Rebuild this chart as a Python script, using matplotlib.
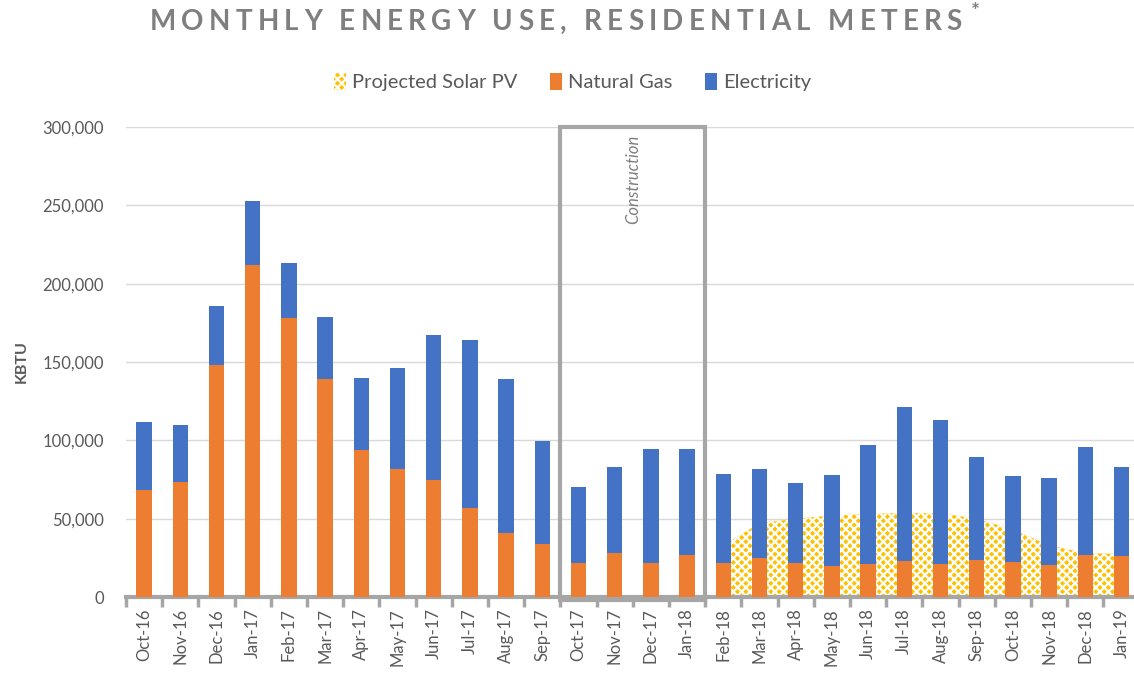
import matplotlib
matplotlib.use("Agg")
import matplotlib.pyplot as plt
from matplotlib.patches import Patch, Rectangle
import numpy as np

plt.rcParams['font.family'] = ['Lato', 'DejaVu Sans']
plt.rcParams['hatch.linewidth'] = 1.6

months = ['Oct-16', 'Nov-16', 'Dec-16', 'Jan-17', 'Feb-17', 'Mar-17', 'Apr-17',
          'May-17', 'Jun-17', 'Jul-17', 'Aug-17', 'Sep-17', 'Oct-17', 'Nov-17',
          'Dec-17', 'Jan-18', 'Feb-18', 'Mar-18', 'Apr-18', 'May-18', 'Jun-18',
          'Jul-18', 'Aug-18', 'Sep-18', 'Oct-18', 'Nov-18', 'Dec-18', 'Jan-19']

gas = [68000, 73500, 148000, 212000, 178000, 139000, 94000, 82000, 75000, 57000,
       41000, 34000, 22000, 28000, 22000, 26500, 22000, 25000, 22000, 19500,
       21000, 23000, 21000, 23500, 22500, 20500, 27000, 26000]

total = [112000, 110000, 186000, 253000, 213000, 179000, 140000, 146000, 167000,
         164000, 139000, 99500, 70000, 83000, 94500, 94500, 78500, 81500, 73000,
         78000, 97000, 121000, 113000, 89500, 77000, 76000, 96000, 83000]
electricity = [t - g for t, g in zip(total, gas)]

# projected solar, Feb-18 .. Jan-19
solar_months = months[16:]
solar = [33000, 47000, 50000, 52000, 53000, 53500, 53500, 50000, 43000, 33000,
         28000, 27500]

grey_txt = '#595959'
c_gas = '#ED7D31'
c_elec = '#4472C4'
c_solar = '#FFC000'

fig = plt.figure(figsize=(11.34, 6.82), dpi=100)
ax = fig.add_axes([126 / 1134, 85 / 682, 1013.6 / 1134, 470 / 682])

x = np.arange(len(months))
xs = np.array([months.index(m) for m in solar_months])

ax.fill_between(xs, 0, solar, facecolor=c_solar, edgecolor='white', hatch='xxxx',
                linewidth=0, zorder=2)
ax.bar(x, gas, width=0.43, color=c_gas, zorder=3)
ax.bar(x, electricity, width=0.43, bottom=gas, color=c_elec, zorder=3)

ax.set_xlim(-0.5, len(months) - 0.5)
ax.set_ylim(0, 300000)
ax.set_yticks(range(0, 300001, 50000))
ax.set_yticklabels([f'{v:,}' for v in range(0, 300001, 50000)])
ax.grid(axis='y', color='#D9D9D9', linewidth=1, zorder=0)
ax.set_axisbelow(True)

for s in ['top', 'right', 'left']:
    ax.spines[s].set_visible(False)
ax.spines['bottom'].set_color('#A6A6A6')
ax.spines['bottom'].set_linewidth(3)

ax.set_xticks(x)
ax.set_xticklabels(months, rotation=90, fontsize=12, color=grey_txt)
ax.set_xticks(np.arange(-0.5, len(months)), minor=True)
ax.tick_params(axis='x', which='major', length=0, pad=8)
ax.tick_params(axis='x', which='minor', length=7, width=2.5, color='#A6A6A6')
ax.tick_params(axis='y', length=0, labelsize=12, labelcolor=grey_txt, pad=16)

ax.set_ylabel('KBTU', fontsize=11.5, fontweight='bold', color=grey_txt, labelpad=10)

# construction period box
ax.add_patch(Rectangle((11.5, -2000), 4, 302000, fill=False, edgecolor='#A6A6A6',
                       linewidth=3, zorder=4, clip_on=False))
ax.text(13.5, 295000, 'Construction', rotation=90, ha='center', va='top',
        fontsize=12, style='italic', color='#7F7F7F', zorder=5)

# letter-spaced title, placed char by char
title = 'MONTHLY ENERGY USE, RESIDENTIAL METERS'
renderer = fig.canvas.get_renderer()
W, H = fig.bbox.width, fig.bbox.height
x0, x1 = 150, 962
ty = 1 - 22 / 682
space_w = 7
chars = []
widths = []
for ch in title:
    t = fig.text(0, ty, ch, ha='left', va='center', fontsize=20, fontweight='bold',
                 color='#7F7F7F')
    w = space_w if ch == ' ' else t.get_window_extent(renderer).width
    chars.append(t)
    widths.append(w)
gap = (x1 - x0 - sum(widths)) / (len(title) - 1)
cx = x0
for t, w in zip(chars, widths):
    t.set_x(cx / W)
    cx += w + gap
fig.text(975 / 1134, 1 - 12 / 682, '*', ha='center', va='center', fontsize=15,
         fontweight='bold', color='#7F7F7F')

handles = [Patch(facecolor=c_solar, edgecolor='white', hatch='xxxx', linewidth=0),
           Patch(facecolor=c_gas), Patch(facecolor=c_elec)]
fig.legend(handles, ['Projected Solar PV', 'Natural Gas', 'Electricity'],
           loc='center', bbox_to_anchor=(0.505, 1 - 82 / 682), ncol=3, frameon=False,
           fontsize=14.5, handlelength=0.6, handleheight=0.9, handletextpad=0.3,
           columnspacing=1.6, labelcolor=grey_txt)

fig.savefig('out.png', dpi=100)
